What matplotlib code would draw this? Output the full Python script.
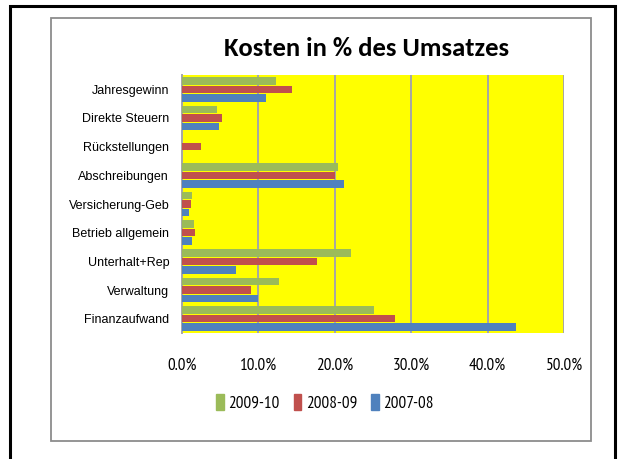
import matplotlib
matplotlib.use("Agg")
import matplotlib.pyplot as plt
from matplotlib.patches import Rectangle, Patch
import numpy as np

categories = ["Finanzaufwand", "Verwaltung", "Unterhalt+Rep", "Betrieb allgemein",
              "Versicherung-Geb", "Abschreibungen", "Rückstellungen",
              "Direkte Steuern", "Jahresgewinn"]
s_2007_08 = [43.7, 10.0, 7.1, 1.4, 1.0, 21.2, 0.0, 4.9, 11.0]
s_2008_09 = [27.9, 9.1, 17.7, 1.7, 1.2, 20.1, 2.5, 5.3, 14.4]
s_2009_10 = [25.2, 12.7, 22.1, 1.6, 1.3, 20.4, 0.0, 4.6, 12.3]
series_names = ["2007-08", "2008-09", "2009-10"]
colors = ["#4F81BD", "#C0504D", "#9BBB59"]
xticks = [0, 10, 20, 30, 40, 50]
title = "Kosten in % des Umsatzes"

CAL = ["Carlito", "DejaVu Sans"]
NAR = ["PT Sans Narrow", "Carlito", "DejaVu Sans"]
ARI = ["Liberation Sans", "DejaVu Sans"]
W, H = 620, 459
fig = plt.figure(figsize=(W / 100, H / 100), dpi=100)

# outer black border and gray chart border
fig.patches.append(Rectangle((10 / W, -0.05), (615 - 10) / W, 1.05 - 6 / H,
                             transform=fig.transFigure, fill=False,
                             edgecolor="black", linewidth=2.2))
fig.patches.append(Rectangle((51 / W, 1 - 441 / H), (591 - 51) / W, (441 - 18) / H,
                             transform=fig.transFigure, fill=False,
                             edgecolor="#8C8C8C", linewidth=1.3))

x0, x1, y0, y1 = 181.7, 564, 75, 333
ax = fig.add_axes([x0 / W, 1 - y1 / H, (x1 - x0) / W, (y1 - y0) / H])
ax.set_facecolor("#FFFF00")

y = np.arange(len(categories))
off = 0.295
hgt = 0.265
for k, (vals, c) in enumerate(zip([s_2007_08, s_2008_09, s_2009_10], colors)):
    ax.barh(y + (k - 1) * off, vals, height=hgt, color=c, zorder=3)

ax.set_xlim(0, 50)
ax.set_ylim(-0.5, len(categories) - 0.5)
ax.set_xticks(xticks)
ax.set_xticklabels([f"{v:.1f}%" for v in xticks], fontfamily=NAR, fontsize=12.3)
ax.set_yticks(y)
ax.set_yticklabels(categories, fontfamily=ARI, fontsize=9)
ax.tick_params(axis="x", length=0, pad=18)
ax.tick_params(axis="y", length=0, pad=9)
ax.grid(axis="x", color="#A6A6A6", linewidth=1.4, zorder=1)
for s in ["top", "right", "bottom"]:
    ax.spines[s].set_visible(False)
ax.spines["left"].set_color("#A6A6A6")
ax.spines["left"].set_linewidth(1.4)

fig.text(367 / W, 1 - 49 / H, title, ha="center", va="center",
         fontfamily=CAL, fontsize=19.2, fontweight="bold")

handles = [Patch(color=colors[2]), Patch(color=colors[1]), Patch(color=colors[0])]
labels = [series_names[2], series_names[1], series_names[0]]
fig.legend(handles, labels, loc="center", bbox_to_anchor=(325 / W, 1 - 403 / H),
           ncol=3, frameon=False, prop={"family": NAR, "size": 12.3},
           handlelength=0.45, handleheight=1.0, handletextpad=0.28, columnspacing=0.8)

fig.savefig("out.png", dpi=100)
